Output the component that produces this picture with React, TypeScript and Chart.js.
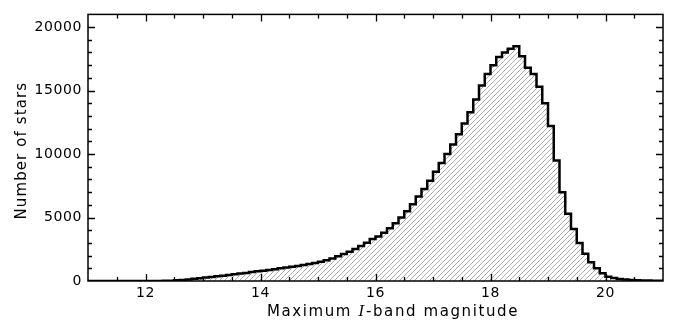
import React, { useEffect, useRef } from "react";
import { Chart, registerables } from "chart.js";

Chart.register(...registerables);

// Bin start magnitudes (bin width 0.1 mag)
const binStarts = [
  11.0, 11.1, 11.2, 11.3, 11.4, 11.5, 11.6, 11.7, 11.8, 11.9,
  12.0, 12.1, 12.2, 12.3, 12.4, 12.5, 12.6, 12.7, 12.8, 12.9,
  13.0, 13.1, 13.2, 13.3, 13.4, 13.5, 13.6, 13.7, 13.8, 13.9,
  14.0, 14.1, 14.2, 14.3, 14.4, 14.5, 14.6, 14.7, 14.8, 14.9,
  15.0, 15.1, 15.2, 15.3, 15.4, 15.5, 15.6, 15.7, 15.8, 15.9,
  16.0, 16.1, 16.2, 16.3, 16.4, 16.5, 16.6, 16.7, 16.8, 16.9,
  17.0, 17.1, 17.2, 17.3, 17.4, 17.5, 17.6, 17.7, 17.8, 17.9,
  18.0, 18.1, 18.2, 18.3, 18.4, 18.5, 18.6, 18.7, 18.8, 18.9,
  19.0, 19.1, 19.2, 19.3, 19.4, 19.5, 19.6, 19.7, 19.8, 19.9,
  20.0, 20.1, 20.2, 20.3, 20.4, 20.5, 20.6, 20.7, 20.8, 20.9,
];
const lastEdge = 21.0;

const starCounts = [
  0, 0, 0, 0, 0, 0, 0, 0, 0, 0,
  0, 0, 5, 10, 25, 50, 80, 120, 170, 220,
  270, 320, 370, 420, 470, 530, 590, 640, 700, 760,
  810, 870, 930, 1000, 1060, 1120, 1190, 1260, 1340, 1420,
  1520, 1640, 1780, 1940, 2120, 2300, 2520, 2760, 3020, 3300,
  3500, 3800, 4150, 4550, 5000, 5500, 6050, 6650, 7250, 7900,
  8600, 9300, 10000, 10750, 11550, 12400, 13300, 14300, 15400, 16300,
  17000, 17650, 18000, 18300, 18500, 17700, 16800, 16300, 15300, 14000,
  12200, 9500, 7000, 5300, 4100, 3000, 2150, 1480, 1000, 620,
  330, 230, 150, 110, 80, 60, 40, 30, 20, 10,
];

const xTickValues = [12, 14, 16, 18, 20];
const yTickValues = [0, 5000, 10000, 15000, 20000];
const xRange = [11, 21];
const yRange = [0, 21000];
const xTitleParts = ["Maximum ", "I", "-band magnitude"];
const yTitle = "Number of stars";

function makeHatch(ctx: CanvasRenderingContext2D) {
  const s = 5;
  const c = document.createElement("canvas");
  c.width = s;
  c.height = s;
  const g = c.getContext("2d")!;
  g.strokeStyle = "#a2a2a2";
  g.lineWidth = 0.9;
  g.beginPath();
  g.moveTo(0, s);
  g.lineTo(s, 0);
  g.moveTo(-1, 1);
  g.lineTo(1, -1);
  g.moveTo(s - 1, s + 1);
  g.lineTo(s + 1, s - 1);
  g.stroke();
  return ctx.createPattern(c, "repeat");
}

const framePlugin = {
  id: "frame",
  beforeDraw(chart: any) {
    (chart.ctx as any).letterSpacing = "0.6px";
  },
  afterDraw(chart: any) {
    const { ctx, chartArea: a, scales } = chart;
    const xs = scales.x;
    const ys = scales.y;
    ctx.save();
    ctx.strokeStyle = "#000";
    ctx.lineWidth = 1.5;
    ctx.strokeRect(a.left, a.top, a.right - a.left, a.bottom - a.top);
    ctx.lineWidth = 1.3;
    ctx.beginPath();
    for (let v = xRange[0] + 0.5; v < xRange[1] - 1e-6; v += 0.5) {
      const px = Math.round(xs.getPixelForValue(v)) + 0.5;
      const major = Math.abs(v / 2 - Math.round(v / 2)) < 1e-6;
      const L = major ? 7 : 4;
      ctx.moveTo(px, a.bottom);
      ctx.lineTo(px, a.bottom - L);
      ctx.moveTo(px, a.top);
      ctx.lineTo(px, a.top + L);
    }
    for (let v = 1000; v < yRange[1] - 1e-6; v += 1000) {
      const py = Math.round(ys.getPixelForValue(v)) + 0.5;
      const major = v % 5000 === 0;
      const L = major ? 7 : 4;
      ctx.moveTo(a.left, py);
      ctx.lineTo(a.left + L, py);
      ctx.moveTo(a.right, py);
      ctx.lineTo(a.right - L, py);
    }
    ctx.stroke();

    // Titles
    ctx.fillStyle = "#000";
    (ctx as any).letterSpacing = "1.6px";
    const fNormal = "15px 'DejaVu Sans'";
    const fItalic = "italic 15px 'DejaVu Serif'";
    ctx.textBaseline = "alphabetic";
    ctx.textAlign = "left";
    const fonts = [fNormal, fItalic, fNormal];
    const widths = xTitleParts.map((t, i) => {
      ctx.font = fonts[i];
      return ctx.measureText(t).width;
    });
    const total = widths.reduce((s, w) => s + w, 0);
    let x = 393 - total / 2;
    xTitleParts.forEach((t, i) => {
      ctx.font = fonts[i];
      ctx.fillText(t, x, 316);
      x += widths[i];
    });

    (ctx as any).letterSpacing = "1.1px";
    ctx.font = fNormal;
    ctx.translate(26, (a.top + a.bottom) / 2 + 3);
    ctx.rotate(-Math.PI / 2);
    ctx.textAlign = "center";
    ctx.fillText(yTitle, 0, 0);
    ctx.restore();
  },
};

export default function App() {
  const ref = useRef<HTMLCanvasElement | null>(null);

  useEffect(() => {
    document.body.style.margin = "0";
    const canvas = ref.current!;
    const ctx = canvas.getContext("2d")!;
    const points = binStarts.map((x, i) => ({ x, y: starCounts[i] }));
    points.push({ x: lastEdge, y: starCounts[starCounts.length - 1] });

    Chart.defaults.font.family = "'DejaVu Sans'";
    const chart = new Chart(canvas, {
      type: "line",
      data: {
        datasets: [
          {
            data: points,
            stepped: "before",
            borderColor: "#000",
            borderWidth: 2.5,
            borderJoinStyle: "miter",
            backgroundColor: makeHatch(ctx) as any,
            fill: "origin",
            pointRadius: 0,
            tension: 0,
          },
        ],
      },
      options: {
        animation: false,
        responsive: true,
        maintainAspectRatio: false,
        layout: { padding: { left: 0, right: 10, top: 9, bottom: 0 } },
        plugins: { legend: { display: false }, tooltip: { enabled: false } },
        scales: {
          x: {
            type: "linear",
            min: xRange[0],
            max: xRange[1],
            afterBuildTicks: (s: any) => {
              s.ticks = xTickValues.map((v) => ({ value: v }));
            },
            afterFit: (s: any) => {
              s.height = 43;
            },
            ticks: {
              color: "#000",
              font: { size: 14 },
              padding: 4,
              maxRotation: 0,
              autoSkip: false,
              callback: (v: any) => String(v),
            },
            grid: { display: false, drawTicks: false },
            border: { display: false },
          },
          y: {
            type: "linear",
            min: yRange[0],
            max: yRange[1],
            afterBuildTicks: (s: any) => {
              s.ticks = yTickValues.map((v) => ({ value: v }));
            },
            afterFit: (s: any) => {
              s.width = 88;
            },
            ticks: {
              color: "#000",
              font: { size: 14 },
              padding: 6,
              autoSkip: false,
              callback: (v: any) => String(v),
            },
            grid: { display: false, drawTicks: false },
            border: { display: false },
          },
        },
      },
      plugins: [framePlugin],
    });
    return () => chart.destroy();
  }, []);

  return (
    <div style={{ width: 673, height: 324, position: "relative" }}>
      <canvas ref={ref} />
    </div>
  );
}
